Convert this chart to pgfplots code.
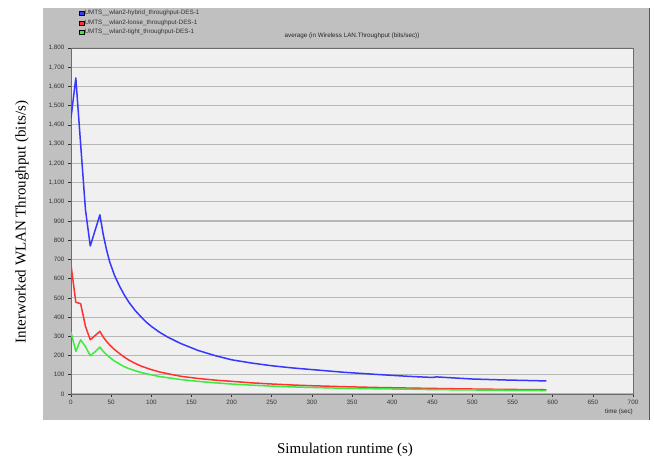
\documentclass[border=0pt]{standalone}
\usepackage{fontspec}
\setmainfont{Liberation Serif}
\newfontfamily\arialf{Liberation Sans}
\usepackage{pgfplots}
\pgfplotsset{compat=1.18}
\definecolor{panel}{RGB}{192,192,192}
\definecolor{plotbg}{RGB}{240,240,240}
\definecolor{gridc}{RGB}{182,182,182}
\definecolor{cblue}{RGB}{55,55,255}
\definecolor{cred}{RGB}{255,50,50}
\definecolor{cgreen}{RGB}{60,235,60}
\pgfplotstableread{
t v
0 1436
6 1644
12 1300
18 959
24 770
30 851
36 932
40 833
44 755
48 690
54 619
60 565
66 518
72 478
80 434
88 398
94 373
100 352
110 322
120 297
137 262
158 227
180 199
200 178
225 161
250 147
275 136
300 127
340 113
380 102
420 92
450 86
455 89
500 78
540 73
592 68
}\hybrid
\pgfplotstableread{
t v
0 672
6 477
12 470
18 352
24 282
30 304
36 326
40 297
44 275
48 256
54 232
60 212
66 193
72 177
80 159
88 144
100 127
110 115
120 106
137 92
158 81
180 72
200 66
225 58
250 52
275 47
300 43
340 38
380 34
420 31
450 29
500 26
540 24
592 22
}\loose
\pgfplotstableread{
t v
0 321
6 222
12 282
18 247
24 199
30 220
36 244
40 222
44 206
48 191
54 172
60 157
66 143
72 132
80 121
88 111
100 100
110 91
120 85
137 75
158 66
180 58
200 52
225 46
250 41
275 37
300 34
340 30
380 27
420 25
450 23
500 21
540 19.5
592 18
}\tight
\begin{document}
\begin{tikzpicture}[x=1pt,y=1pt]
\path[use as bounding box] (0,0) rectangle (654,459);
\fill[white] (0,0) rectangle (654,459);
\fill[panel] (43,39) rectangle (650,451);
\draw[gray!70!black, line width=1pt] (649.5,39) -- (649.5,451);
\begin{axis}[
  scale only axis, width=562pt, height=346pt,
  at={(71pt,65pt)}, anchor=south west,
  xmin=0, xmax=700, ymin=0, ymax=1800,
  xtick={0,50,...,700}, ytick={0,100,...,1800},
  axis background/.style={fill=plotbg},
  ymajorgrids, grid style={gridc, line width=1.1pt},
  axis line style={draw=gray!85!black, line width=0.9pt},
  tick pos=left, tick align=outside, major tick length=3pt,
  tick style={gray!40!black, line width=0.6pt},
  tick label style={font=\arialf\fontsize{6.3}{7}\selectfont, text=black!80},
  /pgf/number format/assume math mode=true,
  /pgf/number format/1000 sep={,},
  title={average (in Wireless LAN.Throughput (bits/sec))},
  title style={font=\arialf\fontsize{6.3}{7}\selectfont, text=black!85, at={(0.5,1)}, anchor=south, yshift=0pt},
  xlabel={time (sec)},
  xlabel style={font=\arialf\fontsize{6.3}{7}\selectfont, text=black!85, at={(axis description cs:1,-0.052)}, anchor=east, inner sep=0pt},
  legend style={at={(0.009,1.117)}, anchor=north west, draw=none, fill=none,
    font=\arialf\fontsize{6.3}{7}\selectfont, text=black!80, row sep=2.2pt,
    nodes={inner sep=0.6pt}},
  legend cell align=left,
  legend image code/.code={\draw[draw=black, line width=0.3pt, fill] (0pt,-2.1pt) rectangle (4.4pt,2.1pt);},
  every axis plot/.append style={line width=1.5pt, line join=round},
]
\addplot[color=cblue] table[x=t,y=v]{\hybrid};
\addlegendentry{UMTS\_\_wlan2-hybrid\_throughput-DES-1}
\addplot[color=cred] table[x=t,y=v]{\loose};
\addlegendentry{UMTS\_\_wlan2-loose\_throughput-DES-1}
\addplot[color=cgreen] table[x=t,y=v]{\tight};
\addlegendentry{UMTS\_\_wlan2-tight\_throughput-DES-1}
\end{axis}
\node[rotate=90, font=\fontsize{15}{17}\selectfont] at (22,237) {Interworked WLAN Throughput (bits/s)};
\node[font=\fontsize{15}{17}\selectfont] at (345,9) {Simulation runtime (s)};
\end{tikzpicture}
\end{document}
